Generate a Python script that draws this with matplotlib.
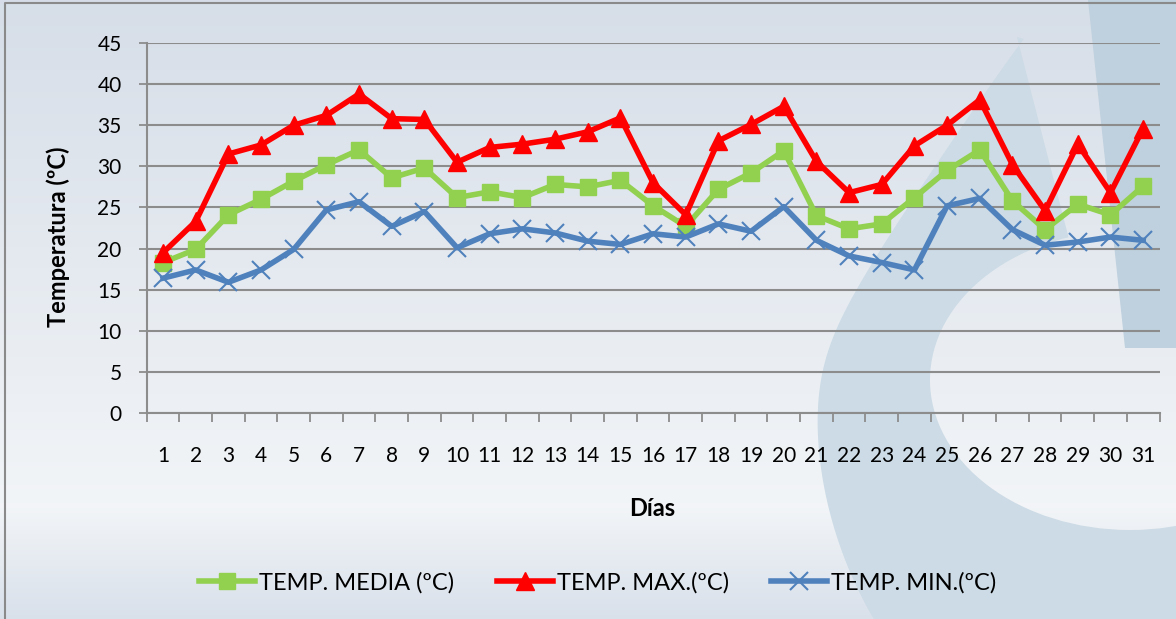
import matplotlib
matplotlib.use("Agg")
import matplotlib.pyplot as plt
import numpy as np
from matplotlib.patches import Polygon, Ellipse

plt.rcParams['font.family'] = ['Lato', 'DejaVu Sans']

days = list(range(1, 32))
temp_media = [18.3, 19.9, 24.1, 26.0, 28.2, 30.2, 32.0, 28.6, 29.8, 26.2,
              26.9, 26.2, 27.8, 27.5, 28.3, 25.2, 22.7, 27.2, 29.2, 31.9,
              24.0, 22.4, 23.0, 26.2, 29.5, 32.0, 25.8, 22.3, 25.4, 24.1, 27.6]
temp_max = [19.5, 23.3, 31.5, 32.6, 35.0, 36.2, 38.8, 35.8, 35.7, 30.5,
            32.3, 32.7, 33.3, 34.2, 35.9, 28.0, 24.1, 33.1, 35.1, 37.3,
            30.6, 26.8, 27.8, 32.5, 35.0, 38.1, 30.2, 24.6, 32.7, 26.8, 34.6]
temp_min = [16.4, 17.4, 15.9, 17.4, 19.9, 24.7, 25.7, 22.7, 24.5, 20.1,
            21.8, 22.4, 21.9, 20.9, 20.5, 21.8, 21.4, 23.0, 22.1, 25.1,
            21.0, 19.1, 18.3, 17.4, 25.2, 26.1, 22.3, 20.4, 20.8, 21.4, 21.0]
yticks = list(range(0, 50, 5))

W, H = 1176, 619
fig = plt.figure(figsize=(W / 100, H / 100), dpi=100)

# ---------- decorative background ----------
bg = fig.add_axes([0, 0, 1, 1], zorder=-10)
bg.set_xlim(0, W)
bg.set_ylim(H, 0)
bg.axis('off')
t = np.linspace(0, 1, 400)[:, None]
c_top = np.array([0.84, 0.87, 0.91])
c_mid = np.array([0.95, 0.96, 0.97])
c_bot = np.array([0.85, 0.88, 0.92])
prof = np.where(t < 0.82, c_top + (c_mid - c_top) * (t / 0.82),
                c_mid + (c_bot - c_mid) * ((t - 0.82) / 0.18))
img = np.repeat(prof[:, None, :], 2, axis=1)
bg.imshow(img, extent=[0, W, H, 0], aspect='auto', zorder=0, interpolation='bilinear')

blue1 = (0.80, 0.86, 0.90)
blue2 = (0.75, 0.82, 0.87)
apex = (1017, 37)
cx, cy, rx, ry = 1130, 380, 322, 400
ys = np.linspace(37, 619, 300)
line_x = apex[0] - 137 / 200 * (ys - apex[1])
ell_x = np.where(np.abs(ys - cy) < ry,
                 cx - rx * np.sqrt(np.clip(1 - ((ys - cy) / ry) ** 2, 0, 1)), cx)
eps = 45.0
left_x = 0.5 * (line_x + ell_x + np.sqrt((line_x - ell_x) ** 2 + eps ** 2))
left_x[0] = apex[0]
shape = list(zip(left_x, ys)) + [(1176, 619), (1176, 348), (1097, 348)]
bg.add_patch(Polygon(shape, closed=True, fc=blue1, ec='none', zorder=1))
hole = Ellipse((1130, 380), 400, 300, transform=bg.transData)
im2 = bg.imshow(img, extent=[0, W, H, 0], aspect='auto', zorder=2, interpolation='bilinear')
im2.set_clip_path(hole)
bg.add_patch(Polygon([(1088, 0), (1176, 0), (1176, 348), (1125, 348)], closed=True,
                     fc=blue2, ec='none', zorder=3))
bg.plot([5, 5, W], [H, 3, 3], color='#8a8a8a', lw=1.5, zorder=5)

# ---------- chart ----------
ax = fig.add_axes([146.7 / W, 1 - 413 / H, (1159.5 - 146.7) / W, (413 - 43) / H])
ax.patch.set_alpha(0)
ax.set_xlim(0.5, 31.5)
ax.set_ylim(0, 45)
ax.set_yticks(yticks)
ax.set_xticks(days)
ax.set_xticks(np.arange(0.5, 32, 1), minor=True)
ax.grid(axis='y', color='#8c8c8c', lw=1.5)
ax.set_axisbelow(True)
for s in ['top', 'right']:
    ax.spines[s].set_visible(False)
for s in ['left', 'bottom']:
    ax.spines[s].set_color('#8c8c8c')
    ax.spines[s].set_linewidth(1.5)
ax.tick_params(axis='y', length=6, width=1.3, color='#8c8c8c', labelsize=15, pad=12)
ax.tick_params(axis='x', which='major', length=0, labelsize=15, pad=24)
ax.tick_params(axis='x', which='minor', length=6.5, width=1.3, color='#8c8c8c')

lw = 4
ax.plot(days, temp_media, color='#92D050', lw=lw, marker='s', ms=11.5,
        label='TEMP. MEDIA (ºC)', zorder=3)
ax.plot(days, temp_max, color='#FF0000', lw=lw, marker='^', ms=13,
        label='TEMP. MAX.(ºC)', zorder=4)
ax.plot(days, temp_min, color='#4F81BD', lw=lw, marker='x', ms=13, mew=1.5,
        label='TEMP. MIN.(ºC)', zorder=5)

fig.text(58 / W, 1 - 237 / H, 'Temperatura (ºC)', rotation=90, fontsize=17,
         fontweight='bold', ha='center', va='center')
fig.text(652 / W, 1 - 509 / H, 'Días', fontsize=17, fontweight='bold',
         ha='center', va='center')

fig.legend(loc='center', bbox_to_anchor=(598 / W, 1 - 583 / H), ncol=3, frameon=False,
           fontsize=17, handlelength=2.37, columnspacing=1.8, handletextpad=0.17)

fig.savefig('out.png', dpi=100)
